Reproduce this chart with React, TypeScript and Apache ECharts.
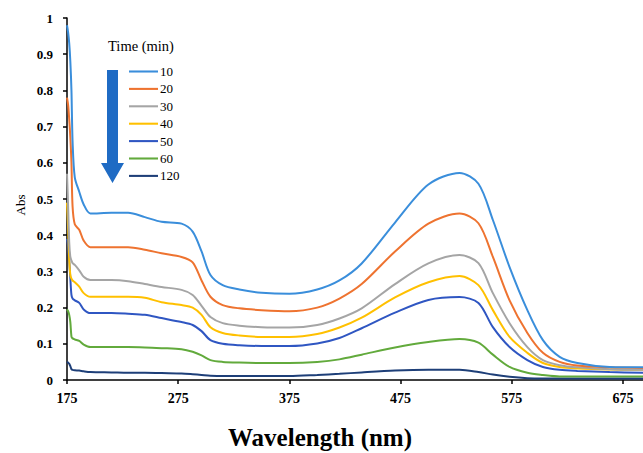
import React, { useEffect, useRef } from "react";
import * as echarts from "echarts";

const wavelengths = [175, 176, 177, 178, 179, 180, 182, 186, 190, 196, 215, 230, 245, 260, 278, 288, 296, 304, 315, 330, 350, 375, 400, 420, 440, 470, 500, 528, 545, 558, 573, 589, 603, 618, 634, 663, 693];

const t10 = [0.98, 0.96, 0.93, 0.88, 0.80, 0.66, 0.56, 0.52, 0.485, 0.46, 0.462, 0.462, 0.45, 0.437, 0.432, 0.41, 0.355, 0.29, 0.262, 0.25, 0.241, 0.238, 0.25, 0.275, 0.322, 0.435, 0.54, 0.572, 0.542, 0.442, 0.312, 0.193, 0.11, 0.064, 0.047, 0.036, 0.035];
const t20 = [0.78, 0.76, 0.72, 0.67, 0.60, 0.48, 0.43, 0.415, 0.385, 0.367, 0.367, 0.367, 0.36, 0.35, 0.34, 0.325, 0.275, 0.23, 0.207, 0.198, 0.193, 0.19, 0.2, 0.225, 0.265, 0.355, 0.432, 0.46, 0.433, 0.34, 0.22, 0.13, 0.075, 0.05, 0.04, 0.035, 0.033];
const t30 = [0.57, 0.48, 0.38, 0.34, 0.33, 0.323, 0.318, 0.303, 0.285, 0.276, 0.276, 0.273, 0.265, 0.257, 0.249, 0.235, 0.205, 0.174, 0.157, 0.15, 0.146, 0.145, 0.152, 0.17, 0.198, 0.265, 0.322, 0.345, 0.323, 0.24, 0.157, 0.091, 0.055, 0.041, 0.035, 0.03, 0.028];
const t40 = [0.49, 0.42, 0.33, 0.29, 0.28, 0.275, 0.27, 0.258, 0.24, 0.23, 0.23, 0.23, 0.227, 0.215, 0.207, 0.2, 0.18, 0.146, 0.13, 0.123, 0.119, 0.119, 0.127, 0.145, 0.172, 0.228, 0.27, 0.287, 0.262, 0.193, 0.119, 0.075, 0.047, 0.036, 0.032, 0.029, 0.028];
const t50 = [0.39, 0.37, 0.33, 0.28, 0.235, 0.225, 0.22, 0.213, 0.195, 0.185, 0.185, 0.183, 0.18, 0.171, 0.16, 0.152, 0.135, 0.11, 0.1, 0.096, 0.094, 0.094, 0.101, 0.116, 0.143, 0.186, 0.221, 0.229, 0.213, 0.146, 0.091, 0.055, 0.036, 0.028, 0.025, 0.022, 0.02];
const t60 = [0.195, 0.19, 0.18, 0.16, 0.12, 0.115, 0.112, 0.108, 0.098, 0.091, 0.091, 0.091, 0.09, 0.088, 0.085, 0.078, 0.068, 0.055, 0.05, 0.048, 0.047, 0.047, 0.05, 0.057, 0.07, 0.09, 0.105, 0.113, 0.103, 0.07, 0.036, 0.02, 0.014, 0.01, 0.01, 0.01, 0.01];
const t120 = [0.05, 0.048, 0.045, 0.038, 0.03, 0.028, 0.027, 0.026, 0.024, 0.022, 0.021, 0.02, 0.02, 0.019, 0.018, 0.016, 0.014, 0.012, 0.011, 0.011, 0.011, 0.011, 0.014, 0.017, 0.021, 0.026, 0.028, 0.028, 0.022, 0.015, 0.009, 0.005, 0.004, 0.004, 0.004, 0.004, 0.004];

const seriesNames = ["10", "20", "30", "40", "50", "60", "120"];
const seriesValues = [t10, t20, t30, t40, t50, t60, t120];
const seriesColors = ["#3A8EDB", "#EE7330", "#A5A5A5", "#FFC000", "#2F56C2", "#62AA3C", "#1E3F78"];

const xTickValues = [175, 275, 375, 475, 575, 675];

const SERIF = "'Liberation Serif', 'Times New Roman', serif";

export default function App() {
  const ref = useRef<HTMLDivElement>(null);

  useEffect(() => {
    if (!ref.current) return;
    const chart = echarts.init(ref.current, null, { renderer: "svg" });
    chart.setOption({
      animation: false,
      backgroundColor: "#ffffff",
      grid: { left: 67, right: 0, top: 18, bottom: 73, containLabel: false },
      xAxis: {
        type: "value",
        min: 175,
        max: 693,
        axisLine: { show: true, lineStyle: { color: "#000", width: 1.5 } },
        axisTick: { show: true, length: 4, customValues: xTickValues, lineStyle: { color: "#000", width: 1.5 } },
        axisLabel: {
          customValues: xTickValues,
          margin: 11,
          fontFamily: SERIF,
          fontWeight: "bold",
          fontSize: 14,
          color: "#000",
        },
        splitLine: { show: false },
      },
      yAxis: {
        type: "value",
        min: 0,
        max: 1,
        interval: 0.1,
        axisLine: { show: true, lineStyle: { color: "#000", width: 1.5 } },
        axisTick: { show: true, length: 4, lineStyle: { color: "#000", width: 1.5 } },
        axisLabel: {
          margin: 14,
          fontFamily: SERIF,
          fontWeight: "bold",
          fontSize: 13,
          color: "#000",
          formatter: (v: number) => String(Math.round(v * 10) / 10),
        },
        splitLine: { show: false },
      },
      legend: {
        orient: "vertical",
        left: 124,
        top: 60,
        padding: 5,
        itemWidth: 29,
        itemHeight: 14,
        itemGap: 4.4,
        icon: "path://M0,6 L28,6 L28,8 L0,8 Z",
        data: seriesNames,
        textStyle: { fontFamily: SERIF, fontSize: 13, color: "#000", padding: [0, 0, 0, -3] },
      },
      graphic: [
        {
          type: "text",
          left: 108,
          top: 38,
          style: { text: "Time (min)", fontFamily: SERIF, fontSize: 14.5, fill: "#000" },
        },
        {
          type: "polygon",
          shape: {
            points: [
              [107, 70],
              [118, 70],
              [118, 163],
              [124, 163],
              [112.5, 183],
              [101, 163],
              [107, 163],
            ],
          },
          style: { fill: "#1F6BC4" },
        },
        {
          type: "text",
          x: 20,
          y: 205,
          rotation: Math.PI / 2,
          style: { text: "Abs", fontFamily: SERIF, fontSize: 13, fill: "#000", align: "center", verticalAlign: "middle" },
        },
        {
          type: "text",
          x: 320,
          y: 437,
          style: {
            text: "Wavelength (nm)",
            fontFamily: SERIF,
            fontSize: 25,
            fontWeight: "bold",
            fill: "#000",
            align: "center",
            verticalAlign: "middle",
          },
        },
      ],
      series: seriesNames.map((name, i) => ({
        name,
        type: "line",
        data: wavelengths.map((w, j) => [w, seriesValues[i][j]]),
        showSymbol: false,
        symbol: "none",
        smooth: 0.3,
        lineStyle: { color: seriesColors[i], width: 2 },
        itemStyle: { color: seriesColors[i] },
        z: 10 - i,
      })),
    });
    return () => chart.dispose();
  }, []);

  return <div ref={ref} style={{ position: "absolute", left: 0, top: 0, width: 643, height: 453 }} />;
}
